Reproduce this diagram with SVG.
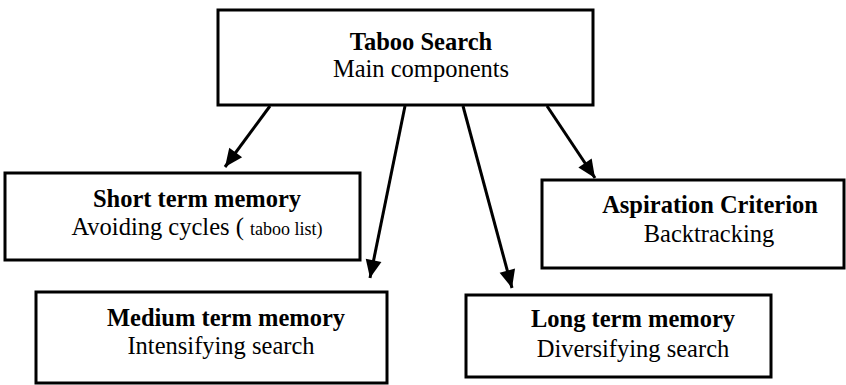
<svg xmlns="http://www.w3.org/2000/svg" width="846" height="385" viewBox="0 0 846 385">
<style>
.box{fill:#fff;stroke:#000;stroke-width:3}
.t{font-family:"Liberation Serif","Times New Roman",serif;fill:#000;text-anchor:middle}
.b{font-weight:bold;font-size:24.5px}
.r{font-size:24.5px}
.s{font-size:18px}
.c{stroke:#000;stroke-width:3;fill:none;marker-end:url(#ah)}
</style>
<defs>
<marker id="ah" markerUnits="userSpaceOnUse" markerWidth="22" markerHeight="22" viewBox="0 0 22 22" refX="20" refY="11" orient="auto">
<path d="M2,3 L20,11 L2,19 Z" fill="#000"/>
</marker>
</defs>
<g id="connectors">
<line class="c" x1="270" y1="106" x2="225" y2="167"/>
<line class="c" x1="405" y1="106" x2="370" y2="278"/>
<line class="c" x1="463" y1="106" x2="512" y2="288"/>
<line class="c" x1="547" y1="106" x2="595" y2="178"/>
</g>
<g id="taboo">
<rect class="box" x="218" y="10" width="375" height="95"/>
<text class="t b" x="421" y="50">Taboo Search</text>
<text class="t r" x="421" y="77">Main components</text>
</g>
<g id="short">
<rect class="box" x="5" y="173" width="355" height="87"/>
<text class="t b" x="197" y="207">Short term memory</text>
<text class="t r" x="197" y="235">Avoiding cycles ( <tspan class="s">taboo list)</tspan></text>
</g>
<g id="medium">
<rect class="box" x="36" y="292" width="351" height="91"/>
<text class="t b" x="226" y="326">Medium term memory</text>
<text class="t r" x="221" y="354">Intensifying search</text>
</g>
<g id="aspiration">
<rect class="box" x="542" y="180" width="302" height="88"/>
<text class="t b" x="710" y="213">Aspiration Criterion</text>
<text class="t r" x="709" y="242">Backtracking</text>
</g>
<g id="long">
<rect class="box" x="466" y="295" width="305" height="82"/>
<text class="t b" x="633" y="327">Long term memory</text>
<text class="t r" x="633" y="357">Diversifying search</text>
</g>
</svg>
